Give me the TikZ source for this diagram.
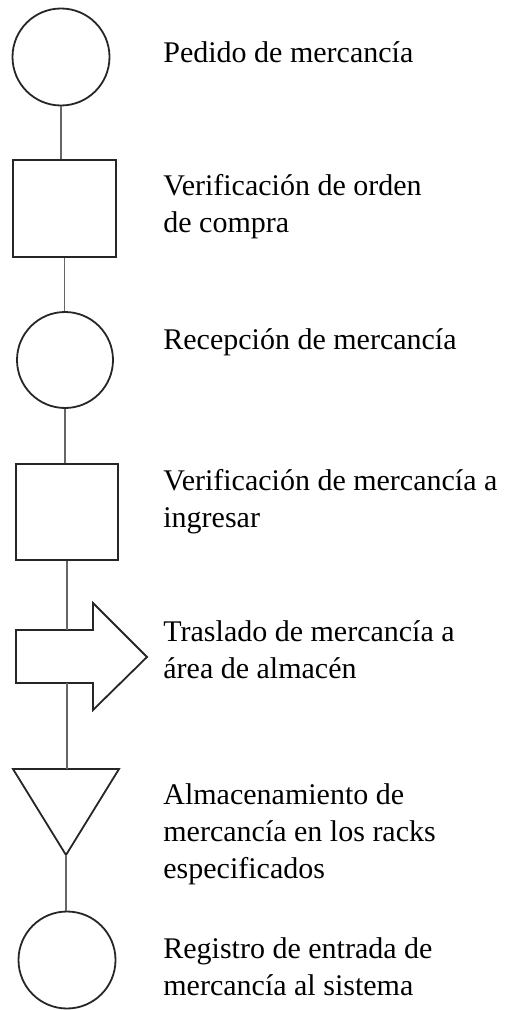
\documentclass[tikz,border=0pt]{standalone}
\usepackage{fontspec}
\setmainfont{Liberation Serif}

\begin{document}
\begin{tikzpicture}[x=0.5pt,y=-0.5pt,
  shp/.style={draw=black!85, line width=0.9pt},
  opcirc/.style={shp, circle, inner sep=0pt},
  opbox/.style={shp, rectangle, inner sep=0pt},
  link/.style={draw=black!60, line width=0.6pt},
  lbl/.style={anchor=base west, align=left, inner sep=0pt, font=\fontsize{15}{18.5}\selectfont}]
\useasboundingbox (0,0) rectangle (504,1010);
\node[opcirc, minimum size=48.5pt] (c1) at (61,57) {};
\node[opbox, minimum width=51.5pt, minimum height=48.5pt] (s1) at (64.5,208.5) {};
\node[opcirc, minimum size=48pt] (c2) at (65,360) {};
\node[opbox, minimum width=51pt, minimum height=48pt] (s2) at (67,512) {};
\draw[shp] (16,630)--(93,630)--(93,603)--(147,657)--(93,710)--(93,683)--(16,683)--cycle;
\coordinate (art) at (67,630);
\coordinate (arb) at (67,683);
\draw[shp] (13,769)--(119,769)--(66,855)--cycle;
\coordinate (trt) at (66,769);
\coordinate (trb) at (66,855);
\node[opcirc, minimum size=48.5pt] (c3) at (67,960) {};
%\draw[link] (c1) -- (c3);
\draw[link] (c1.south) -- (c1.south |- s1.north);
\draw[link] (s1.south) -- (s1.south |- c2.north);
\draw[link] (c2.south) -- (c2.south |- s2.north);
\draw[link] (s2.south) -- (art);
\draw[link] (arb) -- (arb |- trt);
\draw[link] (trb) -- (trb |- c3.north);
% base = last line
\node[lbl] (t1) at (163,63) {Pedido de mercancía};
\node[lbl] (t2) at (163,233) {Verificación de orden\\de compra};
\node[lbl] (t3) at (163,350) {Recepción de mercancía};
\node[lbl] (t4) at (163,527) {Verificación de mercancía a\\ingresar};
\node[lbl] (t5) at (163,678) {Traslado de mercancía a\\área de almacén};
\node[lbl] (t6) at (163,878) {Almacenamiento de\\mercancía en los racks\\especificados};
\node[lbl] (t7) at (163,995) {Registro de entrada de\\mercancía al sistema};
\end{tikzpicture}
\end{document}
